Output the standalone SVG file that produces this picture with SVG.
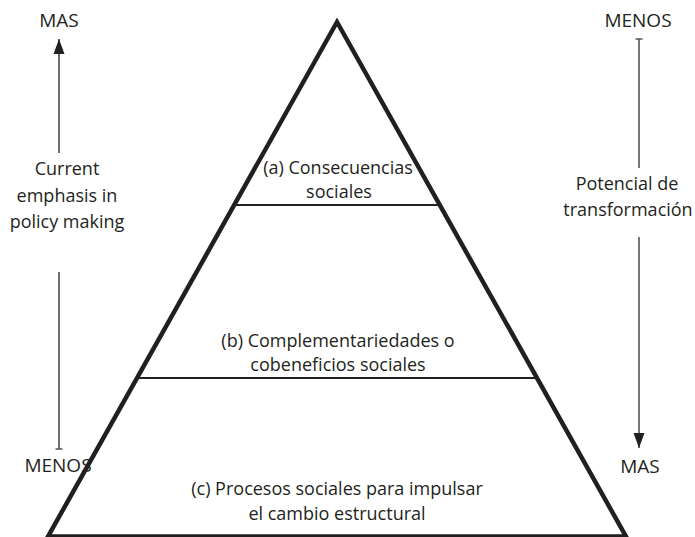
<svg xmlns="http://www.w3.org/2000/svg" width="695" height="537" viewBox="0 0 695 537">
<style>
text{font-family:"Open Sans","Liberation Sans",sans-serif;font-size:18px;fill:#231f20;text-anchor:middle}
.big{font-size:19px}
.tri{fill:none;stroke:#231f20;stroke-width:4.5;stroke-linejoin:miter}
.div{stroke:#231f20;stroke-width:2}
.axL{stroke:#231f20;stroke-width:1.3;fill:none}
.axR{stroke:#555;stroke-width:1.6;fill:none}
</style>
<defs>
<marker id="ah" markerUnits="userSpaceOnUse" markerWidth="16" markerHeight="12" viewBox="0 0 16 12" refX="15.5" refY="6" orient="auto">
<path d="M15.5,6 L0.5,0.5 L0.5,11.5 Z" fill="#231f20"/>
</marker>
<marker id="tk" markerUnits="userSpaceOnUse" markerWidth="8" markerHeight="4" viewBox="0 0 8 4" refX="4" refY="2" orient="0">
<line x1="0.5" y1="2" x2="7.5" y2="2" stroke="#555" stroke-width="1.5"/>
</marker>
</defs>
<g id="pyramid">
<polygon class="tri" points="337,22 626,536.5 48,536.5"/>
<line class="div" x1="236" y1="205" x2="438" y2="205"/>
<line class="div" x1="138" y1="378" x2="536" y2="378"/>
</g>
<g id="level-a">
<text x="338" y="174">(a) Consecuencias</text>
<text x="339" y="198">sociales</text>
</g>
<g id="level-b">
<text x="338" y="347">(b) Complementariedades o</text>
<text x="338" y="371">cobeneficios sociales</text>
</g>
<g id="level-c">
<text x="337" y="495">(c) Procesos sociales para impulsar</text>
<text x="337" y="520">el cambio estructural</text>
</g>
<g id="left-axis">
<text class="big" x="59" y="27">MAS</text>
<text x="67" y="175">Current</text>
<text x="67" y="202">emphasis in</text>
<text x="67" y="228">policy making</text>
<text class="big" x="58" y="472">MENOS</text>
</g>
<g id="right-axis">
<text class="big" x="638" y="27">MENOS</text>
<text x="627" y="190">Potencial de</text>
<text x="628" y="216">transformación</text>
<text class="big" x="640" y="473">MAS</text>
</g>
<g id="connectors">
<line class="axL" x1="59" y1="153" x2="59" y2="39" marker-end="url(#ah)"/>
<line class="axL" x1="59" y1="272" x2="59" y2="449" marker-end="url(#tk)"/>
<line class="axR" x1="639" y1="168" x2="639" y2="39" marker-end="url(#tk)"/>
<line class="axR" x1="639" y1="237" x2="639" y2="448" marker-end="url(#ah)"/>
</g>
</svg>
